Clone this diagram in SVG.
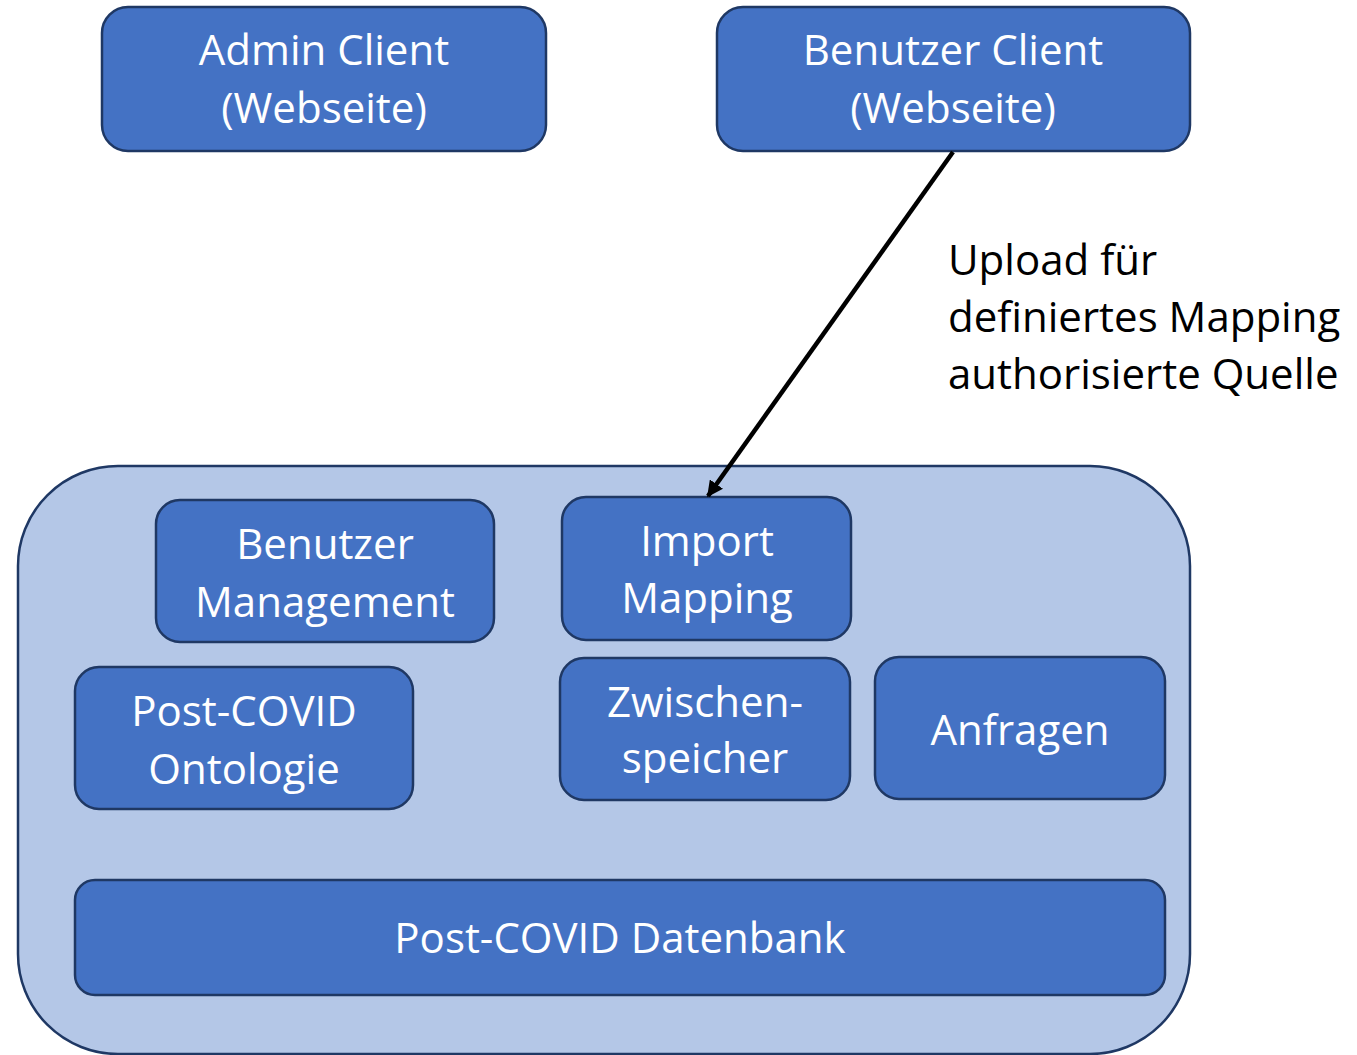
<svg xmlns="http://www.w3.org/2000/svg" width="1357" height="1055" viewBox="0 0 1357 1055">
  <style>
    .box { fill: #4472C4; stroke: #1F3864; stroke-width: 2.5; }
    .frame { fill: #B4C7E7; stroke: #1F3864; stroke-width: 2.5; }
    .t { font-family: "Open Sans", "Noto Sans", sans-serif; font-size: 42px; fill: #FFFFFF; text-anchor: middle; }
    .lbl { font-family: "Open Sans", "Noto Sans", sans-serif; font-size: 42px; fill: #000000; }
    .edge { stroke: #000000; stroke-width: 4.5; fill: none; }
  </style>
  <defs>
    <marker id="arrow" viewBox="0 0 10 10" refX="9" refY="5" markerWidth="3.6" markerHeight="3.6" orient="auto" markerUnits="strokeWidth">
      <path d="M0,0 L10,5 L0,10 z" fill="#000000"/>
    </marker>
  </defs>

  <rect width="1357" height="1055" fill="#FFFFFF"/>

  <!-- backend container -->
  <g id="backend">
    <rect class="frame" x="18" y="466" width="1172" height="588" rx="100" ry="100"/>
  </g>

  <g id="admin-client">
    <rect class="box" x="102" y="7" width="444" height="144" rx="26"/>
    <text class="t" x="324" y="65">Admin Client</text>
    <text class="t" x="324" y="123">(Webseite)</text>
  </g>

  <g id="benutzer-client">
    <rect class="box" x="717" y="7" width="473" height="144" rx="26"/>
    <text class="t" x="953" y="65">Benutzer Client</text>
    <text class="t" x="953" y="123">(Webseite)</text>
  </g>

  <g id="benutzer-management">
    <rect class="box" x="156" y="500" width="338" height="142" rx="24"/>
    <text class="t" x="325" y="559">Benutzer</text>
    <text class="t" x="325" y="617">Management</text>
  </g>

  <g id="import-mapping">
    <rect class="box" x="562" y="497" width="289" height="143" rx="24"/>
    <text class="t" x="707" y="556">Import</text>
    <text class="t" x="707" y="613">Mapping</text>
  </g>

  <g id="ontologie">
    <rect class="box" x="75" y="667" width="338" height="142" rx="24"/>
    <text class="t" x="244" y="726">Post-COVID</text>
    <text class="t" x="244" y="784">Ontologie</text>
  </g>

  <g id="zwischenspeicher">
    <rect class="box" x="560" y="658" width="290" height="142" rx="24"/>
    <text class="t" x="705" y="717">Zwischen-</text>
    <text class="t" x="705" y="773">speicher</text>
  </g>

  <g id="anfragen">
    <rect class="box" x="875" y="657" width="290" height="142" rx="24"/>
    <text class="t" x="1020" y="745">Anfragen</text>
  </g>

  <g id="datenbank">
    <rect class="box" x="75" y="880" width="1090" height="115" rx="20"/>
    <text class="t" x="620" y="953">Post-COVID Datenbank</text>
  </g>

  <!-- connectors -->
  <g id="connectors">
    <line class="edge" x1="953" y1="152" x2="708" y2="496" marker-end="url(#arrow)"/>
    <text class="lbl" x="948" y="275">Upload für</text>
    <text class="lbl" x="948" y="332">definiertes Mapping</text>
    <text class="lbl" x="948" y="389">authorisierte Quelle</text>
  </g>
</svg>
